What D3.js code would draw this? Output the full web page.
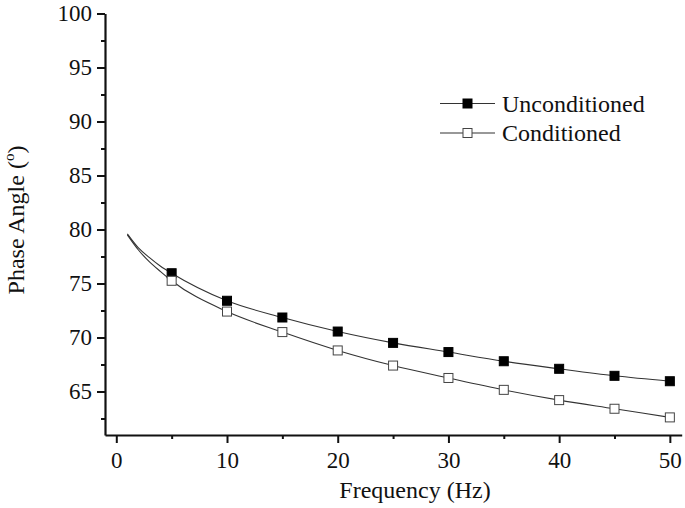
<!DOCTYPE html>
<html><head><meta charset="utf-8">
<script src="https://cdn.jsdelivr.net/npm/d3@7"></script>
<style>
body{margin:0;background:#fff;}
svg text{font-family:"Liberation Serif","Times New Roman",serif;fill:#111;}
</style></head>
<body><svg id="c" width="685" height="508"></svg>
<script>
// Data
const freq = [1, 2, 3, 4, 5, 10, 15, 20, 25, 30, 35, 40, 45, 50];
const unconditioned = [79.6, 78.3, 77.4, 76.6, 75.95, 73.4, 71.85, 70.55, 69.5, 68.65, 67.8, 67.1, 66.45, 65.95];
const conditioned = [79.5, 78.1, 77.0, 76.1, 75.25, 72.4, 70.5, 68.8, 67.4, 66.25, 65.15, 64.2, 63.4, 62.6];
const markerFreq = [5, 10, 15, 20, 25, 30, 35, 40, 45, 50];
const xTicks = [0, 10, 20, 30, 40, 50];
const xMinor = [5, 15, 25, 35, 45];
const yTicks = [65, 70, 75, 80, 85, 90, 95, 100];
const yMinor = [62.5, 67.5, 72.5, 77.5, 82.5, 87.5, 92.5, 97.5];
const seriesNames = ["Unconditioned", "Conditioned"];

const svg = d3.select("#c");
const x = d3.scaleLinear().domain([-1.02, 51.07]).range([105, 681.7]);
const y = d3.scaleLinear().domain([60.97, 100]).range([435, 13.5]);

const axisColor = "#111";
const FONT = "Liberation Serif";
// Y axis
const gy = svg.append("g").attr("transform", "translate(105,0)");
gy.call(d3.axisLeft(y).tickValues(yTicks).tickSize(8).tickPadding(5).tickSizeOuter(0));
gy.append("g").call(d3.axisLeft(y).tickValues(yMinor).tickSize(4).tickFormat("").tickSizeOuter(0))
  .select(".domain").remove();
// X axis
const gx = svg.append("g").attr("transform", "translate(0,435)");
gx.call(d3.axisBottom(x).tickValues(xTicks).tickSize(8).tickPadding(9).tickSizeOuter(0));
gx.append("g").call(d3.axisBottom(x).tickValues(xMinor).tickSize(4).tickFormat("").tickSizeOuter(0))
  .select(".domain").remove();

svg.selectAll("g").attr("font-family", FONT);
svg.selectAll(".domain").attr("stroke", axisColor).attr("stroke-width", 2.2);
svg.selectAll(".tick line").attr("stroke", axisColor).attr("stroke-width", 2);
svg.selectAll(".tick text").attr("font-size", 23).attr("font-family", FONT).attr("fill", "#111");

// Titles
svg.append("text").attr("x", 415).attr("y", 498).attr("text-anchor", "middle")
  .attr("font-family", FONT).attr("font-size", 24).text("Frequency (Hz)");
const yt = svg.append("text").attr("transform", "translate(24,220) rotate(-90)")
  .attr("text-anchor", "middle").attr("font-family", FONT).attr("font-size", 24);
yt.append("tspan").text("Phase Angle (");
yt.append("tspan").attr("font-size", 15).attr("dy", -10).text("o");
yt.append("tspan").attr("dy", 10).text(")");

// Lines
const line = d3.line().x((d, i) => x(freq[i])).y(d => y(d)).curve(d3.curveMonotoneX);
[unconditioned, conditioned].forEach(s => {
  svg.append("path").datum(s).attr("d", line).attr("fill", "none")
    .attr("stroke", "#333").attr("stroke-width", 1.1);
});

// Markers
const ms = 9;
function markers(vals, fill) {
  const pts = freq.map((f, i) => ({f, v: vals[i]})).filter(d => markerFreq.includes(d.f));
  svg.append("g").selectAll("rect").data(pts).join("rect")
    .attr("x", d => x(d.f) - ms / 2).attr("y", d => y(d.v) - ms / 2)
    .attr("width", ms).attr("height", ms)
    .attr("fill", fill).attr("stroke", fill === "#fff" ? "#444" : "#000").attr("stroke-width", 1);
}
markers(unconditioned, "#000");
markers(conditioned, "#fff");

// Legend
const lg = svg.append("g");
seriesNames.forEach((name, i) => {
  const yy = 103.5 + i * 29.5;
  lg.append("line").attr("x1", 440).attr("x2", 495).attr("y1", yy).attr("y2", yy)
    .attr("stroke", "#333").attr("stroke-width", 1.1);
  lg.append("rect").attr("x", 467.5 - ms / 2).attr("y", yy - ms / 2).attr("width", ms).attr("height", ms)
    .attr("fill", i === 0 ? "#000" : "#fff").attr("stroke", i === 0 ? "#000" : "#444");
  lg.append("text").attr("x", 502).attr("y", yy + 8).attr("font-family", FONT).attr("font-size", 24).text(name);
});
</script></body></html>
